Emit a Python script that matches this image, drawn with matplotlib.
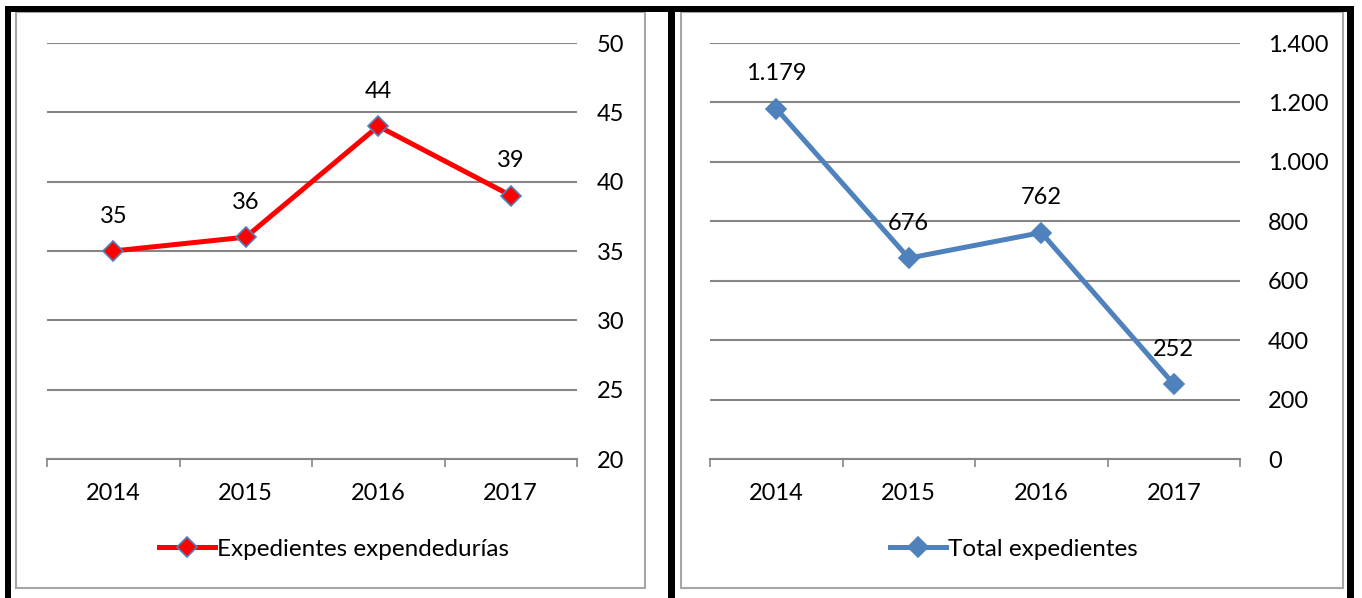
import matplotlib.pyplot as plt
from matplotlib.patches import Rectangle
from matplotlib.lines import Line2D

plt.rcParams['font.family'] = ['Lato', 'DejaVu Sans']

years = ["2014", "2015", "2016", "2017"]
expendedurias = [35, 36, 44, 39]
total_expedientes = [1179, 676, 762, 252]

left_ticks = [20, 25, 30, 35, 40, 45, 50]
right_ticks = [0, 200, 400, 600, 800, 1000, 1200, 1400]

W, H = 1362, 598
RED = "#FF0000"
BLUE = "#4F81BD"
GRID = "#868686"
FS = 17


def fmt_es(v):
    return f"{v:,}".replace(",", ".")


def px_axes(fig, x0, y0, x1, y1):
    return fig.add_axes([x0 / W, 1 - y1 / H, (x1 - x0) / W, (y1 - y0) / H])


def fig_rect(fig, x0, y0, x1, y1, **kw):
    fig.add_artist(Rectangle((x0 / W, 1 - y1 / H), (x1 - x0) / W, (y1 - y0) / H,
                             transform=fig.transFigure, **kw))


def draw_panel(fig, box, values, ticks, color, label, legend_x, ypad):
    ax = px_axes(fig, *box)
    x = list(range(len(years)))
    ax.plot(x, values, color=color, lw=3.6, marker="D", ms=10,
            markerfacecolor=color, markeredgecolor=BLUE, markeredgewidth=1.2,
            solid_joinstyle="miter", zorder=3, clip_on=False)
    for xi, v in zip(x, values):
        ax.annotate(fmt_es(v), (xi, v), xytext=(0, 25), textcoords="offset points",
                    ha="center", va="center", fontsize=FS, color="black")
    ax.set_xlim(-0.5, len(years) - 0.5)
    ax.set_ylim(ticks[0], ticks[-1])
    ax.set_yticks(ticks)
    ax.set_yticklabels([fmt_es(t) for t in ticks])
    ax.yaxis.tick_right()
    ax.tick_params(axis="y", length=0, pad=ypad, labelsize=FS)
    ax.set_xticks(x)
    ax.set_xticklabels(years)
    ax.set_xticks([i - 0.5 for i in range(len(years) + 1)], minor=True)
    ax.tick_params(axis="x", which="major", length=0, pad=17, labelsize=FS)
    ax.tick_params(axis="x", which="minor", length=6, width=1.2, color=GRID, direction="out")
    for s in ["top", "left", "right"]:
        ax.spines[s].set_visible(False)
    ax.spines["bottom"].set_color(GRID)
    ax.spines["bottom"].set_linewidth(1.5)
    ax.grid(axis="y", color=GRID, lw=1.5)
    ax.set_axisbelow(True)
    handle = Line2D([], [], color=color, lw=3.6, marker="D", ms=10,
                    markerfacecolor=color, markeredgecolor=BLUE, markeredgewidth=1.2)
    fig.legend([handle], [label], loc="center", bbox_to_anchor=(legend_x / W, 1 - 549 / H),
               frameon=False, fontsize=FS + 0.5, handlelength=2.3, handletextpad=0.1)
    return ax


fig = plt.figure(figsize=(W / 100, H / 100), dpi=100)

# chart area frames
fig_rect(fig, 16, 12, 645, 588, fill=False, edgecolor="#A6A6A6", lw=1.5)
fig_rect(fig, 681, 12, 1343, 588, fill=False, edgecolor="#A6A6A6", lw=1.5)

# outer black table borders
fig_rect(fig, 5, 6, 1354, 12, facecolor="black", edgecolor="none")
fig_rect(fig, 5, 6, 11, 598, facecolor="black", edgecolor="none")
fig_rect(fig, 668, 6, 675, 598, facecolor="black", edgecolor="none")
fig_rect(fig, 1347, 6, 1354, 598, facecolor="black", edgecolor="none")

draw_panel(fig, (47, 43, 577, 459), expendedurias, left_ticks, RED,
           "Expedientes expendedurías", 334, 14.5)
draw_panel(fig, (710, 43, 1240, 459), total_expedientes, right_ticks, BLUE,
           "Total expedientes", 1014, 20)

fig.savefig("out.png", dpi=100)
